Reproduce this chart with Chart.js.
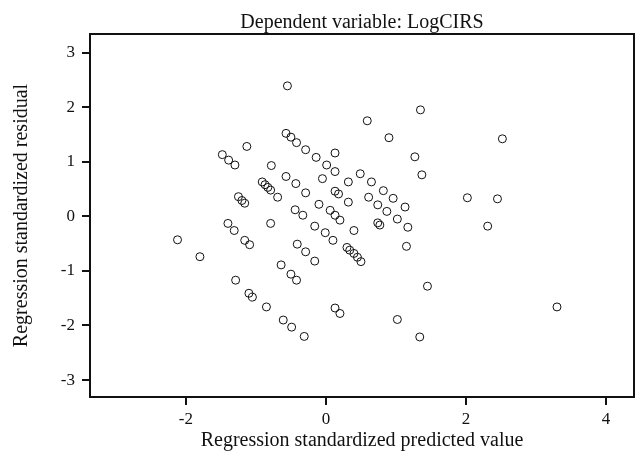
<!DOCTYPE html>
<html>
<head>
<meta charset="utf-8">
<script src="https://cdn.jsdelivr.net/npm/chart.js@4"></script>
<style>
  html, body { margin: 0; padding: 0; background: #fff; }
  #wrap { width: 639px; height: 451px; }
</style>
</head>
<body>
<div id="wrap"><canvas id="chart" width="639" height="451"></canvas></div>
<script>
// ─── DATA ─────────────────────────────────────────────────────
const chartTitle = 'Dependent variable: LogCIRS';
const xTitle = 'Regression standardized predicted value';
const yTitle = 'Regression standardized residual';

const xTicks = [-2, 0, 2, 4];
const yTicks = [-3, -2, -1, 0, 1, 2, 3];

// standardized predicted values
const predicted = [
  -0.55, -0.57, -0.50, -0.42, -0.29, -0.14, 0.13, 0.01, 0.13, -0.05,
   0.32,  0.49, -1.13, -1.48, -1.39, -1.30, -0.78, -0.57, -0.43, -0.29,
  -0.91, -0.87, -0.83, -0.79, -0.69, -1.25, -1.20, -1.16, -0.10, 0.13,
   0.18,  0.32, -0.44, -0.33,  0.06,  0.13,  0.20, -0.79, -0.16, -0.01,
   0.10,  0.40, -1.40, -1.31, -1.16, -1.09, -2.12, -1.80, -0.41, -0.29,
  -0.16, -0.64, -0.50, -0.42, -1.29, -1.10, -1.05, -0.85, -0.61, -0.49,
  -0.31,  0.13,  0.20,  0.30,  0.34,  0.40,  0.45,  0.50,  0.74,  0.87,
   1.02,  1.13,  1.17,  0.74,  0.77,  1.15,  1.45,  1.02,  1.34,  2.31,
   3.30,  1.35,  0.59,  0.90,  2.52,  1.27,  1.37,  0.65,  0.82,  0.96,
   0.61,  2.02,  2.45
];

// standardized residuals
const residual = [
   2.39,  1.52,  1.45,  1.35,  1.22,  1.08,  1.16,  0.94,  0.82,  0.69,
   0.63,  0.78,  1.28,  1.13,  1.03,  0.94,  0.93,  0.73,  0.60,  0.43,
   0.63,  0.58,  0.53,  0.48,  0.35,  0.36,  0.29,  0.24,  0.22,  0.46,
   0.41,  0.26,  0.12,  0.02,  0.11,  0.02, -0.07, -0.13, -0.18, -0.30,
  -0.44, -0.26, -0.13, -0.26, -0.44, -0.52, -0.43, -0.74, -0.51, -0.65,
  -0.82, -0.89, -1.06, -1.17, -1.17, -1.41, -1.48, -1.66, -1.90, -2.03,
  -2.20, -1.68, -1.78, -0.57, -0.62, -0.68, -0.75, -0.83,  0.21,  0.09,
  -0.05,  0.17, -0.20, -0.12, -0.16, -0.55, -1.28, -1.89, -2.21, -0.18,
  -1.66,  1.95,  1.75,  1.44,  1.42,  1.09,  0.76,  0.63,  0.47,  0.33,
   0.35,  0.34,  0.32
];

// ─── STYLE ────────────────────────────────────────────────────
const FONT = "'Liberation Serif', 'DejaVu Serif', serif";
const INK  = '#111';
const TITLE_SIZE = 20;
const TICK_SIZE  = 17;

// frame around the plot + title centred over it
const framePlugin = {
  id: 'frame',
  afterDraw(chart) {
    const { ctx, chartArea } = chart;
    ctx.save();
    ctx.strokeStyle = INK;
    ctx.lineWidth = 2;
    ctx.strokeRect(chartArea.left, chartArea.top,
                   chartArea.right - chartArea.left, chartArea.bottom - chartArea.top);
    ctx.fillStyle = INK;
    ctx.font = `${TITLE_SIZE}px ${FONT}`;
    ctx.textAlign = 'center';
    ctx.textBaseline = 'alphabetic';
    ctx.fillText(chartTitle, (chartArea.left + chartArea.right) / 2, 28);
    ctx.restore();
  }
};

const points = predicted.map((x, i) => ({ x, y: residual[i] }));

new Chart(document.getElementById('chart'), {
  type: 'scatter',
  data: {
    datasets: [{
      data: points,
      pointRadius: 4,
      pointHoverRadius: 4,
      pointBorderWidth: 1,
      pointBorderColor: INK,
      pointBackgroundColor: 'rgba(0,0,0,0)'
    }]
  },
  plugins: [framePlugin],
  options: {
    responsive: false,
    animation: false,
    layout: { padding: { top: 34, right: 5, left: 0, bottom: 0 } },
    plugins: {
      legend: { display: false },
      tooltip: { enabled: false }
    },
    scales: {
      x: {
        type: 'linear',
        min: -3.37,
        max: 4.4,
        afterBuildTicks: axis => { axis.ticks = xTicks.map(v => ({ value: v })); },
        afterFit: axis => { axis.height = 54; },
        grid: { drawOnChartArea: false, drawTicks: true, tickLength: 8, color: INK, lineWidth: 2 },
        border: { display: false },
        ticks: { color: INK, font: { family: FONT, size: TICK_SIZE }, padding: 4, maxRotation: 0 },
        title: { display: true, text: xTitle, color: INK,
                 font: { family: FONT, size: TITLE_SIZE, lineHeight: 1 }, padding: { top: 0, bottom: 0 } }
      },
      y: {
        type: 'linear',
        min: -3.31,
        max: 3.34,
        afterBuildTicks: axis => { axis.ticks = yTicks.map(v => ({ value: v })); },
        afterFit: axis => { axis.width = 90; },
        grid: { drawOnChartArea: false, drawTicks: true, tickLength: 8, color: INK, lineWidth: 2 },
        border: { display: false },
        ticks: { color: INK, font: { family: FONT, size: TICK_SIZE }, padding: 7 },
        title: { display: true, text: yTitle, color: INK,
                 font: { family: FONT, size: TITLE_SIZE, lineHeight: 1 }, padding: { top: 12, bottom: 0 } }
      }
    }
  }
});
</script>
</body>
</html>
